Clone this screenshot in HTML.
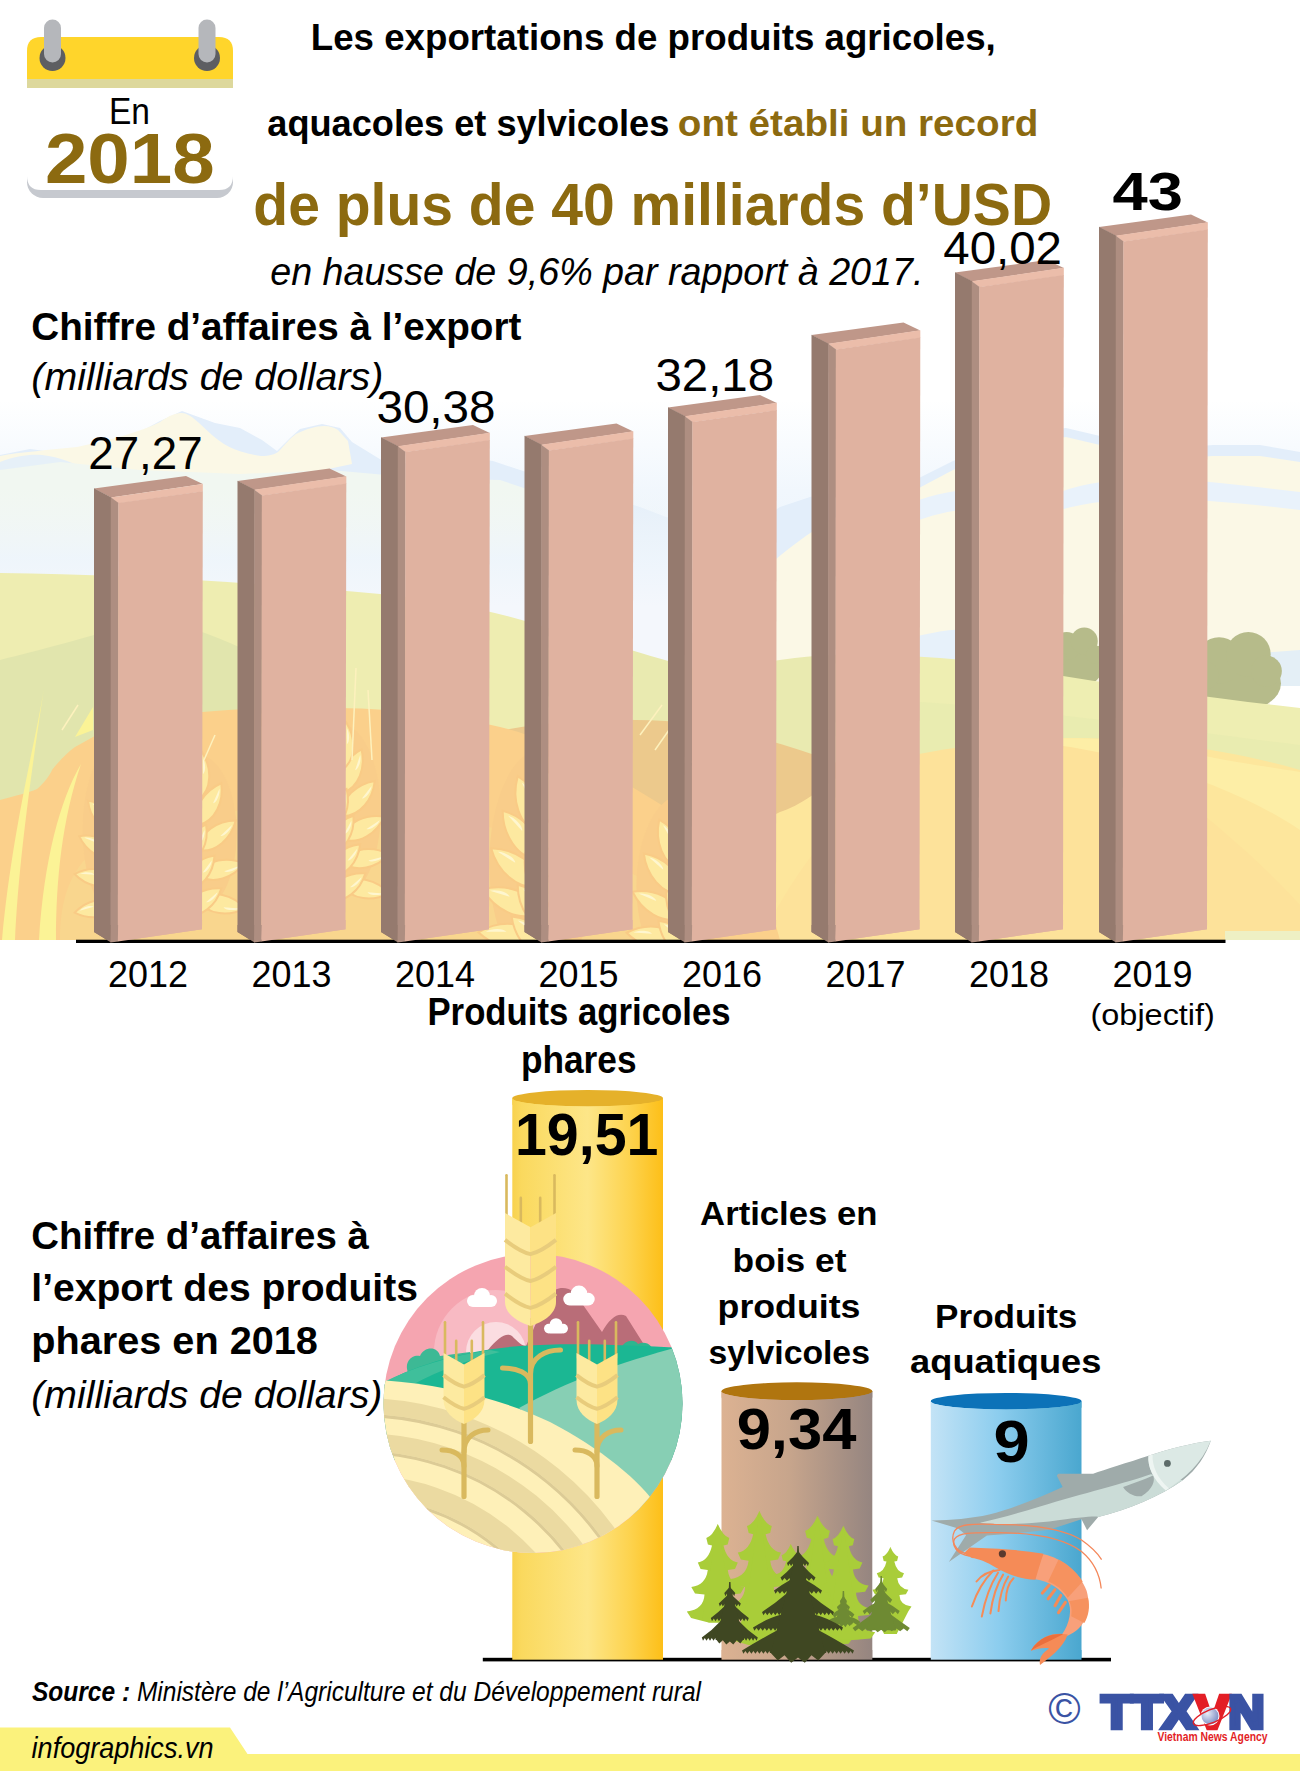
<!DOCTYPE html>
<html lang="fr"><head><meta charset="utf-8"><title>Exportations agricoles 2018</title>
<style>
html,body{margin:0;padding:0;background:#fff}
body{width:1300px;height:1771px;overflow:hidden}
svg{display:block}
svg text{font-family:"Liberation Sans",sans-serif}
</style></head><body>
<svg width="1300" height="1771" viewBox="0 0 1300 1771">
<defs>
<linearGradient id="sky" x1="0" y1="0" x2="0" y2="1">
<stop offset="0" stop-color="#ffffff"/><stop offset="0.25" stop-color="#f1f7fd"/><stop offset="0.55" stop-color="#eaf3fc"/><stop offset="1" stop-color="#f6f8fc"/>
</linearGradient>
<linearGradient id="haze" x1="0" y1="0" x2="0" y2="1">
<stop offset="0" stop-color="#f3f7f6" stop-opacity="0"/><stop offset="0.6" stop-color="#eef5fc" stop-opacity="0.9"/><stop offset="1" stop-color="#f4f7fc" stop-opacity="1"/>
</linearGradient>
<linearGradient id="hazeR" x1="0" y1="0" x2="0" y2="1">
<stop offset="0" stop-color="#fbf8e6" stop-opacity="0"/><stop offset="1" stop-color="#f9f9ec" stop-opacity="1"/>
</linearGradient>
<clipPath id="bgclip"><rect x="0" y="395" width="1300" height="545"/></clipPath>
</defs>
<g clip-path="url(#bgclip)">
<rect x="0" y="400" width="1300" height="360" fill="url(#sky)"/>
<path d="M0,455 L30,449 L60,453 L95,443 L127,439 L160,421 L182,411 L215,423 L240,428 L262,440 L277,451 L290,438 L300,429 L322,424 L340,428 L352,442 L383,461 L433,466 L470,458 L493,461 L523,471 L580,489 L640,507 L666,517 L720,530 L760,520 L780,507 L810,497 L850,490 L919,478 L953,461 L1000,443 L1040,431 L1066,428 L1100,436 L1150,450 L1213,445 L1260,445 L1300,452 V720 H0 Z" fill="#e3eefa"/>
<path d="M0,456 C20,452 50,450 77,447 C110,440 140,432 160,422 C170,415 176,413 182,413 C190,413 200,424 212,435 C222,444 235,452 261,456 C270,456 275,454 278,452 C285,445 290,438 296,434 C306,429 316,426 324,426 C330,426 335,428 338,430 C342,434 345,438 348,441 L352,464 L300,475 L200,480 L100,476 L0,486 Z" fill="#fbf8e6"/>
<path d="M0,462 C15,456 30,454 42,455 C60,457 75,464 90,470 L90,480 L0,482 Z" fill="#e6f0f8"/>
<path d="M0,470 L60,462 L140,470 L240,474 L330,470 L420,478 L500,480 L560,500 L560,600 L0,600 Z" fill="#f1f7f1"/>
<rect x="0" y="486" width="760" height="120" fill="url(#haze)"/>
<rect x="0" y="605" width="760" height="80" fill="#f4f7fc"/>
<path d="M700,640 C760,560 830,515 870,502 L919,488 L953,470 L1000,452 L1040,440 L1066,437 L1100,445 L1150,460 L1213,456 L1260,456 L1300,462 V720 H700 Z" fill="#fbf8e6"/>
<path d="M919,500 C960,485 1010,486 1060,492 C1120,470 1200,480 1300,492 V510 C1200,498 1120,492 1060,510 C1010,505 960,505 919,520 Z" fill="#e9f2fb"/>
<path d="M905,640 C950,625 1000,625 1063,640 L1063,665 L905,665 Z" fill="#e7f1fa"/>
<path d="M1230,655 L1300,650 V690 H1230 Z" fill="#e4eff6"/>
<rect x="1270" y="686" width="30" height="22" fill="#ffffff"/>
<g fill="#b6bb8a"><ellipse cx="1078" cy="664.5" rx="26.0" ry="22.5"/><circle cx="1066.56" cy="646.0" r="14.040000000000001"/><circle cx="1084.24" cy="641.0" r="13.52"/><circle cx="1095.16" cy="654.5" r="9.36"/><circle cx="1058.24" cy="658.0" r="8.32"/></g>
<g fill="#b6bb8a"><ellipse cx="1238" cy="683.5" rx="43.0" ry="27.900000000000002"/><circle cx="1219.08" cy="660.56" r="23.220000000000002"/><circle cx="1248.32" cy="654.36" r="22.36"/><circle cx="1266.38" cy="671.1" r="15.479999999999999"/><circle cx="1205.32" cy="675.44" r="13.76"/></g>
<path d="M1040,660 L1063,650 L1063,690 L1040,690Z" fill="#b6bb8a"/>
<path d="M0,573 C120,574 260,583 380,594 C450,601 500,612 560,632 L700,690 V940 H0 Z" fill="#eeedb1"/>
<path d="M0,660 C40,650 80,640 150,618 C260,640 330,700 400,760 L400,940 H0 Z" fill="#e1e5ad"/>
<path d="M590,640 C640,650 680,668 720,672 C760,662 800,655 860,654 L866,654 L866,780 L590,780 Z" fill="#e9eab0"/>
<path d="M860,655 C930,655 1000,662 1063,676 C1150,690 1230,700 1300,708 V800 H860 Z" fill="#eeeeb2"/>
<path d="M860,700 C960,700 1100,720 1300,745 V800 H860 Z" fill="#e9ecb0"/>
<path d="M780,790 C850,765 960,745 1066,738 C1150,738 1230,750 1300,770 V940 H700 Z" fill="#fde69c"/>
<path d="M919,754 C980,742 1040,738 1100,740 C1180,790 1260,860 1300,905 V940 H760 C800,860 850,800 919,754 Z" fill="#fde29a"/>
<path d="M1020,740 C1060,737 1110,738 1150,742 C1210,760 1260,765 1300,772 V830 C1240,790 1150,755 1020,740Z" fill="#fdeea6"/>
<path d="M455,742 C520,722 600,716 680,722 C740,730 800,748 850,768 C820,790 800,806 780,812 C700,850 640,900 600,940 H455 Z" fill="#ecc98c"/>
<path d="M0,800 C15,796 30,792 37,789 C45,782 50,775 52,770 C60,760 68,752 75,747 L93,737 C130,718 200,708 300,708 C380,706 450,715 500,727 C580,745 700,830 760,870 L780,940 H0 Z" fill="#fbd08b"/>
<path d="M60,940 C60,900 70,870 95,850 C200,800 330,800 420,815 C520,830 600,850 680,900 L720,940 Z" fill="#f9d68e"/>
<path d="M44,688 C36,740 12,830 2,940 L15,940 C18,870 30,780 44,688 Z" fill="#fbf396"/>
<path d="M81,764 C60,800 44,860 39,940 L56,940 C56,880 62,820 81,764 Z" fill="#fbf396"/>
<path d="M75,737 L93,707 L93,730 Z" fill="#fbf396"/>
<g><ellipse cx="120" cy="830.0" rx="37.4" ry="88.0" fill="#f9cd8a"/><path transform="translate(118.0 905.0) rotate(-100)" d="M0,0 C-12.4,-11.0 -10.0,-30.8 0,-44 C10.0,-30.8 12.4,-11.0 0,0 Z" fill="#fde9a0" stroke="#f9cb86" stroke-width="2"/><path transform="translate(118.0 905.0) rotate(-100)" d="M2.4,-24.2 C5.0,-26.4 4.0,-35.2 1.0,-38.7 Z" fill="#fef6cf"/><path transform="translate(118.0 880.9) rotate(-81)" d="M0,0 C-12.4,-11.0 -10.0,-30.8 0,-44 C10.0,-30.8 12.4,-11.0 0,0 Z" fill="#fde9a0" stroke="#f9cb86" stroke-width="2"/><path transform="translate(118.0 880.9) rotate(-81)" d="M2.4,-24.2 C5.0,-26.4 4.0,-35.2 1.0,-38.7 Z" fill="#fef6cf"/><path transform="translate(118.0 856.8) rotate(-62)" d="M0,0 C-12.4,-11.0 -10.0,-30.8 0,-44 C10.0,-30.8 12.4,-11.0 0,0 Z" fill="#fde9a0" stroke="#f9cb86" stroke-width="2"/><path transform="translate(118.0 856.8) rotate(-62)" d="M2.4,-24.2 C5.0,-26.4 4.0,-35.2 1.0,-38.7 Z" fill="#fef6cf"/><path transform="translate(118.0 832.8) rotate(-43)" d="M0,0 C-12.4,-11.0 -10.0,-30.8 0,-44 C10.0,-30.8 12.4,-11.0 0,0 Z" fill="#fde9a0" stroke="#f9cb86" stroke-width="2"/><path transform="translate(118.0 832.8) rotate(-43)" d="M2.4,-24.2 C5.0,-26.4 4.0,-35.2 1.0,-38.7 Z" fill="#fef6cf"/><path transform="translate(118.0 808.7) rotate(-24)" d="M0,0 C-12.4,-11.0 -10.0,-30.8 0,-44 C10.0,-30.8 12.4,-11.0 0,0 Z" fill="#fde9a0" stroke="#f9cb86" stroke-width="2"/><path transform="translate(118.0 808.7) rotate(-24)" d="M2.4,-24.2 C5.0,-26.4 4.0,-35.2 1.0,-38.7 Z" fill="#fef6cf"/><path transform="translate(118.0 784.6) rotate(-5)" d="M0,0 C-12.4,-11.0 -10.0,-30.8 0,-44 C10.0,-30.8 12.4,-11.0 0,0 Z" fill="#fde9a0" stroke="#f9cb86" stroke-width="2"/><path transform="translate(118.0 784.6) rotate(-5)" d="M2.4,-24.2 C5.0,-26.4 4.0,-35.2 1.0,-38.7 Z" fill="#fef6cf"/><path transform="translate(132.0 918.2) rotate(-55)" d="M0,0 C-12.4,-10.4 -10.0,-29.3 0,-41.8 C10.0,-29.3 12.4,-10.4 0,0 Z" fill="#fde9a0" stroke="#f9cb86" stroke-width="2"/><path transform="translate(132.0 918.2) rotate(-55)" d="M2.4,-23.0 C5.0,-25.1 4.0,-33.4 1.0,-36.8 Z" fill="#fef6cf"/><path transform="translate(132.0 894.1) rotate(-45)" d="M0,0 C-12.4,-10.4 -10.0,-29.3 0,-41.8 C10.0,-29.3 12.4,-10.4 0,0 Z" fill="#fde9a0" stroke="#f9cb86" stroke-width="2"/><path transform="translate(132.0 894.1) rotate(-45)" d="M2.4,-23.0 C5.0,-25.1 4.0,-33.4 1.0,-36.8 Z" fill="#fef6cf"/><path transform="translate(132.0 870.0) rotate(-34)" d="M0,0 C-12.4,-10.4 -10.0,-29.3 0,-41.8 C10.0,-29.3 12.4,-10.4 0,0 Z" fill="#fde9a0" stroke="#f9cb86" stroke-width="2"/><path transform="translate(132.0 870.0) rotate(-34)" d="M2.4,-23.0 C5.0,-25.1 4.0,-33.4 1.0,-36.8 Z" fill="#fef6cf"/><path transform="translate(132.0 846.0) rotate(-24)" d="M0,0 C-12.4,-10.4 -10.0,-29.3 0,-41.8 C10.0,-29.3 12.4,-10.4 0,0 Z" fill="#fde9a0" stroke="#f9cb86" stroke-width="2"/><path transform="translate(132.0 846.0) rotate(-24)" d="M2.4,-23.0 C5.0,-25.1 4.0,-33.4 1.0,-36.8 Z" fill="#fef6cf"/><path transform="translate(132.0 821.9) rotate(-13)" d="M0,0 C-12.4,-10.4 -10.0,-29.3 0,-41.8 C10.0,-29.3 12.4,-10.4 0,0 Z" fill="#fde9a0" stroke="#f9cb86" stroke-width="2"/><path transform="translate(132.0 821.9) rotate(-13)" d="M2.4,-23.0 C5.0,-25.1 4.0,-33.4 1.0,-36.8 Z" fill="#fef6cf"/><path transform="translate(132.0 797.8) rotate(-3)" d="M0,0 C-12.4,-10.4 -10.0,-29.3 0,-41.8 C10.0,-29.3 12.4,-10.4 0,0 Z" fill="#fde9a0" stroke="#f9cb86" stroke-width="2"/><path transform="translate(132.0 797.8) rotate(-3)" d="M2.4,-23.0 C5.0,-25.1 4.0,-33.4 1.0,-36.8 Z" fill="#fef6cf"/></g>
<g><ellipse cx="196" cy="833.5" rx="40.8" ry="79.5" fill="#f9cd8a"/><path transform="translate(198.0 900.0) rotate(100)" d="M0,0 C-13.6,-12.0 -11.0,-33.6 0,-48 C11.0,-33.6 13.6,-12.0 0,0 Z" fill="#fde9a0" stroke="#f9cb86" stroke-width="2"/><path transform="translate(198.0 900.0) rotate(100)" d="M2.6,-26.4 C5.5,-28.8 4.4,-38.4 1.1,-42.2 Z" fill="#fef6cf"/><path transform="translate(198.0 875.1) rotate(76)" d="M0,0 C-13.6,-12.0 -11.0,-33.6 0,-48 C11.0,-33.6 13.6,-12.0 0,0 Z" fill="#fde9a0" stroke="#f9cb86" stroke-width="2"/><path transform="translate(198.0 875.1) rotate(76)" d="M2.6,-26.4 C5.5,-28.8 4.4,-38.4 1.1,-42.2 Z" fill="#fef6cf"/><path transform="translate(198.0 850.1) rotate(52)" d="M0,0 C-13.6,-12.0 -11.0,-33.6 0,-48 C11.0,-33.6 13.6,-12.0 0,0 Z" fill="#fde9a0" stroke="#f9cb86" stroke-width="2"/><path transform="translate(198.0 850.1) rotate(52)" d="M2.6,-26.4 C5.5,-28.8 4.4,-38.4 1.1,-42.2 Z" fill="#fef6cf"/><path transform="translate(198.0 825.2) rotate(29)" d="M0,0 C-13.6,-12.0 -11.0,-33.6 0,-48 C11.0,-33.6 13.6,-12.0 0,0 Z" fill="#fde9a0" stroke="#f9cb86" stroke-width="2"/><path transform="translate(198.0 825.2) rotate(29)" d="M2.6,-26.4 C5.5,-28.8 4.4,-38.4 1.1,-42.2 Z" fill="#fef6cf"/><path transform="translate(198.0 800.2) rotate(5)" d="M0,0 C-13.6,-12.0 -11.0,-33.6 0,-48 C11.0,-33.6 13.6,-12.0 0,0 Z" fill="#fde9a0" stroke="#f9cb86" stroke-width="2"/><path transform="translate(198.0 800.2) rotate(5)" d="M2.6,-26.4 C5.5,-28.8 4.4,-38.4 1.1,-42.2 Z" fill="#fef6cf"/><path transform="translate(184.0 914.4) rotate(55)" d="M0,0 C-13.6,-11.4 -11.0,-31.9 0,-45.599999999999994 C11.0,-31.9 13.6,-11.4 0,0 Z" fill="#fde9a0" stroke="#f9cb86" stroke-width="2"/><path transform="translate(184.0 914.4) rotate(55)" d="M2.6,-25.1 C5.5,-27.4 4.4,-36.5 1.1,-40.1 Z" fill="#fef6cf"/><path transform="translate(184.0 889.5) rotate(42)" d="M0,0 C-13.6,-11.4 -11.0,-31.9 0,-45.599999999999994 C11.0,-31.9 13.6,-11.4 0,0 Z" fill="#fde9a0" stroke="#f9cb86" stroke-width="2"/><path transform="translate(184.0 889.5) rotate(42)" d="M2.6,-25.1 C5.5,-27.4 4.4,-36.5 1.1,-40.1 Z" fill="#fef6cf"/><path transform="translate(184.0 864.5) rotate(29)" d="M0,0 C-13.6,-11.4 -11.0,-31.9 0,-45.599999999999994 C11.0,-31.9 13.6,-11.4 0,0 Z" fill="#fde9a0" stroke="#f9cb86" stroke-width="2"/><path transform="translate(184.0 864.5) rotate(29)" d="M2.6,-25.1 C5.5,-27.4 4.4,-36.5 1.1,-40.1 Z" fill="#fef6cf"/><path transform="translate(184.0 839.6) rotate(16)" d="M0,0 C-13.6,-11.4 -11.0,-31.9 0,-45.599999999999994 C11.0,-31.9 13.6,-11.4 0,0 Z" fill="#fde9a0" stroke="#f9cb86" stroke-width="2"/><path transform="translate(184.0 839.6) rotate(16)" d="M2.6,-25.1 C5.5,-27.4 4.4,-36.5 1.1,-40.1 Z" fill="#fef6cf"/><path transform="translate(184.0 814.6) rotate(3)" d="M0,0 C-13.6,-11.4 -11.0,-31.9 0,-45.599999999999994 C11.0,-31.9 13.6,-11.4 0,0 Z" fill="#fde9a0" stroke="#f9cb86" stroke-width="2"/><path transform="translate(184.0 814.6) rotate(3)" d="M2.6,-25.1 C5.5,-27.4 4.4,-36.5 1.1,-40.1 Z" fill="#fef6cf"/></g>
<g><ellipse cx="340" cy="811.0" rx="40.8" ry="87.0" fill="#f9cd8a"/><path transform="translate(342.0 885.0) rotate(100)" d="M0,0 C-13.6,-12.0 -11.0,-33.6 0,-48 C11.0,-33.6 13.6,-12.0 0,0 Z" fill="#fde9a0" stroke="#f9cb86" stroke-width="2"/><path transform="translate(342.0 885.0) rotate(100)" d="M2.6,-26.4 C5.5,-28.8 4.4,-38.4 1.1,-42.2 Z" fill="#fef6cf"/><path transform="translate(342.0 862.0) rotate(81)" d="M0,0 C-13.6,-12.0 -11.0,-33.6 0,-48 C11.0,-33.6 13.6,-12.0 0,0 Z" fill="#fde9a0" stroke="#f9cb86" stroke-width="2"/><path transform="translate(342.0 862.0) rotate(81)" d="M2.6,-26.4 C5.5,-28.8 4.4,-38.4 1.1,-42.2 Z" fill="#fef6cf"/><path transform="translate(342.0 839.1) rotate(62)" d="M0,0 C-13.6,-12.0 -11.0,-33.6 0,-48 C11.0,-33.6 13.6,-12.0 0,0 Z" fill="#fde9a0" stroke="#f9cb86" stroke-width="2"/><path transform="translate(342.0 839.1) rotate(62)" d="M2.6,-26.4 C5.5,-28.8 4.4,-38.4 1.1,-42.2 Z" fill="#fef6cf"/><path transform="translate(342.0 816.1) rotate(43)" d="M0,0 C-13.6,-12.0 -11.0,-33.6 0,-48 C11.0,-33.6 13.6,-12.0 0,0 Z" fill="#fde9a0" stroke="#f9cb86" stroke-width="2"/><path transform="translate(342.0 816.1) rotate(43)" d="M2.6,-26.4 C5.5,-28.8 4.4,-38.4 1.1,-42.2 Z" fill="#fef6cf"/><path transform="translate(342.0 793.2) rotate(24)" d="M0,0 C-13.6,-12.0 -11.0,-33.6 0,-48 C11.0,-33.6 13.6,-12.0 0,0 Z" fill="#fde9a0" stroke="#f9cb86" stroke-width="2"/><path transform="translate(342.0 793.2) rotate(24)" d="M2.6,-26.4 C5.5,-28.8 4.4,-38.4 1.1,-42.2 Z" fill="#fef6cf"/><path transform="translate(342.0 770.2) rotate(5)" d="M0,0 C-13.6,-12.0 -11.0,-33.6 0,-48 C11.0,-33.6 13.6,-12.0 0,0 Z" fill="#fde9a0" stroke="#f9cb86" stroke-width="2"/><path transform="translate(342.0 770.2) rotate(5)" d="M2.6,-26.4 C5.5,-28.8 4.4,-38.4 1.1,-42.2 Z" fill="#fef6cf"/><path transform="translate(328.0 899.4) rotate(55)" d="M0,0 C-13.6,-11.4 -11.0,-31.9 0,-45.599999999999994 C11.0,-31.9 13.6,-11.4 0,0 Z" fill="#fde9a0" stroke="#f9cb86" stroke-width="2"/><path transform="translate(328.0 899.4) rotate(55)" d="M2.6,-25.1 C5.5,-27.4 4.4,-36.5 1.1,-40.1 Z" fill="#fef6cf"/><path transform="translate(328.0 876.4) rotate(45)" d="M0,0 C-13.6,-11.4 -11.0,-31.9 0,-45.599999999999994 C11.0,-31.9 13.6,-11.4 0,0 Z" fill="#fde9a0" stroke="#f9cb86" stroke-width="2"/><path transform="translate(328.0 876.4) rotate(45)" d="M2.6,-25.1 C5.5,-27.4 4.4,-36.5 1.1,-40.1 Z" fill="#fef6cf"/><path transform="translate(328.0 853.5) rotate(34)" d="M0,0 C-13.6,-11.4 -11.0,-31.9 0,-45.599999999999994 C11.0,-31.9 13.6,-11.4 0,0 Z" fill="#fde9a0" stroke="#f9cb86" stroke-width="2"/><path transform="translate(328.0 853.5) rotate(34)" d="M2.6,-25.1 C5.5,-27.4 4.4,-36.5 1.1,-40.1 Z" fill="#fef6cf"/><path transform="translate(328.0 830.5) rotate(24)" d="M0,0 C-13.6,-11.4 -11.0,-31.9 0,-45.599999999999994 C11.0,-31.9 13.6,-11.4 0,0 Z" fill="#fde9a0" stroke="#f9cb86" stroke-width="2"/><path transform="translate(328.0 830.5) rotate(24)" d="M2.6,-25.1 C5.5,-27.4 4.4,-36.5 1.1,-40.1 Z" fill="#fef6cf"/><path transform="translate(328.0 807.6) rotate(13)" d="M0,0 C-13.6,-11.4 -11.0,-31.9 0,-45.599999999999994 C11.0,-31.9 13.6,-11.4 0,0 Z" fill="#fde9a0" stroke="#f9cb86" stroke-width="2"/><path transform="translate(328.0 807.6) rotate(13)" d="M2.6,-25.1 C5.5,-27.4 4.4,-36.5 1.1,-40.1 Z" fill="#fef6cf"/><path transform="translate(328.0 784.6) rotate(3)" d="M0,0 C-13.6,-11.4 -11.0,-31.9 0,-45.599999999999994 C11.0,-31.9 13.6,-11.4 0,0 Z" fill="#fde9a0" stroke="#f9cb86" stroke-width="2"/><path transform="translate(328.0 784.6) rotate(3)" d="M2.6,-25.1 C5.5,-27.4 4.4,-36.5 1.1,-40.1 Z" fill="#fef6cf"/></g>
<g><ellipse cx="542" cy="863.5" rx="52.7" ry="114.5" fill="#f9cd8a"/><path transform="translate(540.0 965.0) rotate(-100)" d="M0,0 C-17.4,-15.5 -14.0,-43.4 0,-62 C14.0,-43.4 17.4,-15.5 0,0 Z" fill="#fde9a0" stroke="#f9cb86" stroke-width="2"/><path transform="translate(540.0 965.0) rotate(-100)" d="M3.4,-34.1 C7.0,-37.2 5.6,-49.6 1.4,-54.6 Z" fill="#fef6cf"/><path transform="translate(540.0 938.8) rotate(-84)" d="M0,0 C-17.4,-15.5 -14.0,-43.4 0,-62 C14.0,-43.4 17.4,-15.5 0,0 Z" fill="#fde9a0" stroke="#f9cb86" stroke-width="2"/><path transform="translate(540.0 938.8) rotate(-84)" d="M3.4,-34.1 C7.0,-37.2 5.6,-49.6 1.4,-54.6 Z" fill="#fef6cf"/><path transform="translate(540.0 912.6) rotate(-68)" d="M0,0 C-17.4,-15.5 -14.0,-43.4 0,-62 C14.0,-43.4 17.4,-15.5 0,0 Z" fill="#fde9a0" stroke="#f9cb86" stroke-width="2"/><path transform="translate(540.0 912.6) rotate(-68)" d="M3.4,-34.1 C7.0,-37.2 5.6,-49.6 1.4,-54.6 Z" fill="#fef6cf"/><path transform="translate(540.0 886.4) rotate(-52)" d="M0,0 C-17.4,-15.5 -14.0,-43.4 0,-62 C14.0,-43.4 17.4,-15.5 0,0 Z" fill="#fde9a0" stroke="#f9cb86" stroke-width="2"/><path transform="translate(540.0 886.4) rotate(-52)" d="M3.4,-34.1 C7.0,-37.2 5.6,-49.6 1.4,-54.6 Z" fill="#fef6cf"/><path transform="translate(540.0 860.2) rotate(-37)" d="M0,0 C-17.4,-15.5 -14.0,-43.4 0,-62 C14.0,-43.4 17.4,-15.5 0,0 Z" fill="#fde9a0" stroke="#f9cb86" stroke-width="2"/><path transform="translate(540.0 860.2) rotate(-37)" d="M3.4,-34.1 C7.0,-37.2 5.6,-49.6 1.4,-54.6 Z" fill="#fef6cf"/><path transform="translate(540.0 834.0) rotate(-21)" d="M0,0 C-17.4,-15.5 -14.0,-43.4 0,-62 C14.0,-43.4 17.4,-15.5 0,0 Z" fill="#fde9a0" stroke="#f9cb86" stroke-width="2"/><path transform="translate(540.0 834.0) rotate(-21)" d="M3.4,-34.1 C7.0,-37.2 5.6,-49.6 1.4,-54.6 Z" fill="#fef6cf"/><path transform="translate(540.0 807.8) rotate(-5)" d="M0,0 C-17.4,-15.5 -14.0,-43.4 0,-62 C14.0,-43.4 17.4,-15.5 0,0 Z" fill="#fde9a0" stroke="#f9cb86" stroke-width="2"/><path transform="translate(540.0 807.8) rotate(-5)" d="M3.4,-34.1 C7.0,-37.2 5.6,-49.6 1.4,-54.6 Z" fill="#fef6cf"/><path transform="translate(554.0 983.6) rotate(-55)" d="M0,0 C-17.4,-14.7 -14.0,-41.2 0,-58.9 C14.0,-41.2 17.4,-14.7 0,0 Z" fill="#fde9a0" stroke="#f9cb86" stroke-width="2"/><path transform="translate(554.0 983.6) rotate(-55)" d="M3.4,-32.4 C7.0,-35.3 5.6,-47.1 1.4,-51.8 Z" fill="#fef6cf"/><path transform="translate(554.0 957.4) rotate(-46)" d="M0,0 C-17.4,-14.7 -14.0,-41.2 0,-58.9 C14.0,-41.2 17.4,-14.7 0,0 Z" fill="#fde9a0" stroke="#f9cb86" stroke-width="2"/><path transform="translate(554.0 957.4) rotate(-46)" d="M3.4,-32.4 C7.0,-35.3 5.6,-47.1 1.4,-51.8 Z" fill="#fef6cf"/><path transform="translate(554.0 931.2) rotate(-38)" d="M0,0 C-17.4,-14.7 -14.0,-41.2 0,-58.9 C14.0,-41.2 17.4,-14.7 0,0 Z" fill="#fde9a0" stroke="#f9cb86" stroke-width="2"/><path transform="translate(554.0 931.2) rotate(-38)" d="M3.4,-32.4 C7.0,-35.3 5.6,-47.1 1.4,-51.8 Z" fill="#fef6cf"/><path transform="translate(554.0 905.0) rotate(-29)" d="M0,0 C-17.4,-14.7 -14.0,-41.2 0,-58.9 C14.0,-41.2 17.4,-14.7 0,0 Z" fill="#fde9a0" stroke="#f9cb86" stroke-width="2"/><path transform="translate(554.0 905.0) rotate(-29)" d="M3.4,-32.4 C7.0,-35.3 5.6,-47.1 1.4,-51.8 Z" fill="#fef6cf"/><path transform="translate(554.0 878.8) rotate(-20)" d="M0,0 C-17.4,-14.7 -14.0,-41.2 0,-58.9 C14.0,-41.2 17.4,-14.7 0,0 Z" fill="#fde9a0" stroke="#f9cb86" stroke-width="2"/><path transform="translate(554.0 878.8) rotate(-20)" d="M3.4,-32.4 C7.0,-35.3 5.6,-47.1 1.4,-51.8 Z" fill="#fef6cf"/><path transform="translate(554.0 852.6) rotate(-11)" d="M0,0 C-17.4,-14.7 -14.0,-41.2 0,-58.9 C14.0,-41.2 17.4,-14.7 0,0 Z" fill="#fde9a0" stroke="#f9cb86" stroke-width="2"/><path transform="translate(554.0 852.6) rotate(-11)" d="M3.4,-32.4 C7.0,-35.3 5.6,-47.1 1.4,-51.8 Z" fill="#fef6cf"/><path transform="translate(554.0 826.4) rotate(-3)" d="M0,0 C-17.4,-14.7 -14.0,-41.2 0,-58.9 C14.0,-41.2 17.4,-14.7 0,0 Z" fill="#fde9a0" stroke="#f9cb86" stroke-width="2"/><path transform="translate(554.0 826.4) rotate(-3)" d="M3.4,-32.4 C7.0,-35.3 5.6,-47.1 1.4,-51.8 Z" fill="#fef6cf"/></g>
<g><ellipse cx="684" cy="886.0" rx="47.6" ry="92.0" fill="#f9cd8a"/><path transform="translate(682.0 965.0) rotate(-100)" d="M0,0 C-15.5,-14.0 -12.5,-39.2 0,-56 C12.5,-39.2 15.5,-14.0 0,0 Z" fill="#fde9a0" stroke="#f9cb86" stroke-width="2"/><path transform="translate(682.0 965.0) rotate(-100)" d="M3.0,-30.8 C6.2,-33.6 5.0,-44.8 1.2,-49.3 Z" fill="#fef6cf"/><path transform="translate(682.0 941.5) rotate(-81)" d="M0,0 C-15.5,-14.0 -12.5,-39.2 0,-56 C12.5,-39.2 15.5,-14.0 0,0 Z" fill="#fde9a0" stroke="#f9cb86" stroke-width="2"/><path transform="translate(682.0 941.5) rotate(-81)" d="M3.0,-30.8 C6.2,-33.6 5.0,-44.8 1.2,-49.3 Z" fill="#fef6cf"/><path transform="translate(682.0 918.0) rotate(-62)" d="M0,0 C-15.5,-14.0 -12.5,-39.2 0,-56 C12.5,-39.2 15.5,-14.0 0,0 Z" fill="#fde9a0" stroke="#f9cb86" stroke-width="2"/><path transform="translate(682.0 918.0) rotate(-62)" d="M3.0,-30.8 C6.2,-33.6 5.0,-44.8 1.2,-49.3 Z" fill="#fef6cf"/><path transform="translate(682.0 894.4) rotate(-43)" d="M0,0 C-15.5,-14.0 -12.5,-39.2 0,-56 C12.5,-39.2 15.5,-14.0 0,0 Z" fill="#fde9a0" stroke="#f9cb86" stroke-width="2"/><path transform="translate(682.0 894.4) rotate(-43)" d="M3.0,-30.8 C6.2,-33.6 5.0,-44.8 1.2,-49.3 Z" fill="#fef6cf"/><path transform="translate(682.0 870.9) rotate(-24)" d="M0,0 C-15.5,-14.0 -12.5,-39.2 0,-56 C12.5,-39.2 15.5,-14.0 0,0 Z" fill="#fde9a0" stroke="#f9cb86" stroke-width="2"/><path transform="translate(682.0 870.9) rotate(-24)" d="M3.0,-30.8 C6.2,-33.6 5.0,-44.8 1.2,-49.3 Z" fill="#fef6cf"/><path transform="translate(682.0 847.4) rotate(-5)" d="M0,0 C-15.5,-14.0 -12.5,-39.2 0,-56 C12.5,-39.2 15.5,-14.0 0,0 Z" fill="#fde9a0" stroke="#f9cb86" stroke-width="2"/><path transform="translate(682.0 847.4) rotate(-5)" d="M3.0,-30.8 C6.2,-33.6 5.0,-44.8 1.2,-49.3 Z" fill="#fef6cf"/><path transform="translate(696.0 981.8) rotate(-55)" d="M0,0 C-15.5,-13.3 -12.5,-37.2 0,-53.199999999999996 C12.5,-37.2 15.5,-13.3 0,0 Z" fill="#fde9a0" stroke="#f9cb86" stroke-width="2"/><path transform="translate(696.0 981.8) rotate(-55)" d="M3.0,-29.3 C6.2,-31.9 5.0,-42.6 1.2,-46.8 Z" fill="#fef6cf"/><path transform="translate(696.0 958.3) rotate(-45)" d="M0,0 C-15.5,-13.3 -12.5,-37.2 0,-53.199999999999996 C12.5,-37.2 15.5,-13.3 0,0 Z" fill="#fde9a0" stroke="#f9cb86" stroke-width="2"/><path transform="translate(696.0 958.3) rotate(-45)" d="M3.0,-29.3 C6.2,-31.9 5.0,-42.6 1.2,-46.8 Z" fill="#fef6cf"/><path transform="translate(696.0 934.8) rotate(-34)" d="M0,0 C-15.5,-13.3 -12.5,-37.2 0,-53.199999999999996 C12.5,-37.2 15.5,-13.3 0,0 Z" fill="#fde9a0" stroke="#f9cb86" stroke-width="2"/><path transform="translate(696.0 934.8) rotate(-34)" d="M3.0,-29.3 C6.2,-31.9 5.0,-42.6 1.2,-46.8 Z" fill="#fef6cf"/><path transform="translate(696.0 911.2) rotate(-24)" d="M0,0 C-15.5,-13.3 -12.5,-37.2 0,-53.199999999999996 C12.5,-37.2 15.5,-13.3 0,0 Z" fill="#fde9a0" stroke="#f9cb86" stroke-width="2"/><path transform="translate(696.0 911.2) rotate(-24)" d="M3.0,-29.3 C6.2,-31.9 5.0,-42.6 1.2,-46.8 Z" fill="#fef6cf"/><path transform="translate(696.0 887.7) rotate(-13)" d="M0,0 C-15.5,-13.3 -12.5,-37.2 0,-53.199999999999996 C12.5,-37.2 15.5,-13.3 0,0 Z" fill="#fde9a0" stroke="#f9cb86" stroke-width="2"/><path transform="translate(696.0 887.7) rotate(-13)" d="M3.0,-29.3 C6.2,-31.9 5.0,-42.6 1.2,-46.8 Z" fill="#fef6cf"/><path transform="translate(696.0 864.2) rotate(-3)" d="M0,0 C-15.5,-13.3 -12.5,-37.2 0,-53.199999999999996 C12.5,-37.2 15.5,-13.3 0,0 Z" fill="#fde9a0" stroke="#f9cb86" stroke-width="2"/><path transform="translate(696.0 864.2) rotate(-3)" d="M3.0,-29.3 C6.2,-31.9 5.0,-42.6 1.2,-46.8 Z" fill="#fef6cf"/></g>
<path d="M352,760 L356,668" stroke="#fdf1bd" stroke-width="1.5" fill="none"/>
<path d="M372,760 L368,690" stroke="#fdf1bd" stroke-width="1.5" fill="none"/>
<path d="M204,760 L215,735" stroke="#fdf1bd" stroke-width="1.5" fill="none"/>
<path d="M62,730 L78,705" stroke="#fdf1bd" stroke-width="1.5" fill="none"/>
<path d="M640,735 L662,705" stroke="#fdf1bd" stroke-width="1.5" fill="none"/>
<path d="M655,750 L690,700" stroke="#fdf1bd" stroke-width="1.5" fill="none"/>
<rect x="1225" y="931" width="75" height="9" fill="#eef0c4"/>
</g>
<g>
<rect x="27" y="60" width="206" height="138" rx="16" fill="#c6c9cf"/>
<path d="M27,88 H233 V176 Q233,190 219,190 H41 Q27,190 27,176 Z" fill="#ffffff"/>
<path d="M27,80 V51 Q27,37 41,37 H219 Q233,37 233,51 V80 Z" fill="#ffd52b"/>
<rect x="27" y="79" width="206" height="9" fill="#ddd89c"/>
<circle cx="52.5" cy="58" r="13" fill="#5d5e62"/>
<rect x="44.0" y="19.5" width="17" height="43" rx="8.5" fill="#b5b7bb"/>
<circle cx="207" cy="58" r="13" fill="#5d5e62"/>
<rect x="198.5" y="19.5" width="17" height="43" rx="8.5" fill="#b5b7bb"/>
</g>
<text x="129.5" y="123.5" font-size="37" font-weight="normal" font-style="normal" fill="#000" text-anchor="middle" textLength="41.0" lengthAdjust="spacingAndGlyphs" >En</text>
<text x="129.8" y="183" font-size="70" font-weight="bold" font-style="normal" fill="#8c6a10" text-anchor="middle" textLength="169.7" lengthAdjust="spacingAndGlyphs" >2018</text>
<text x="310.8" y="49.5" font-size="37" font-weight="bold" font-style="normal" fill="#000" text-anchor="start" textLength="685.0" lengthAdjust="spacingAndGlyphs" >Les exportations de produits agricoles,</text>
<text x="267.3" y="136" font-size="37" font-weight="bold" font-style="normal" fill="#000" text-anchor="start" textLength="402.0" lengthAdjust="spacingAndGlyphs" >aquacoles et sylvicoles</text>
<text x="677.8" y="136" font-size="37" font-weight="bold" font-style="normal" fill="#8c6a10" text-anchor="start" textLength="360.5" lengthAdjust="spacingAndGlyphs" >ont établi un record</text>
<text x="253.3" y="224.5" font-size="59" font-weight="bold" font-style="normal" fill="#8c6a10" text-anchor="start" textLength="798.8" lengthAdjust="spacingAndGlyphs" >de plus de 40 milliards d’USD</text>
<text x="270.2" y="285" font-size="39" font-weight="normal" font-style="italic" fill="#000" text-anchor="start" textLength="653.2" lengthAdjust="spacingAndGlyphs" >en hausse de 9,6% par rapport à 2017.</text>
<text x="31.3" y="340" font-size="38" font-weight="bold" font-style="normal" fill="#000" text-anchor="start" textLength="490.1" lengthAdjust="spacingAndGlyphs" >Chiffre d’affaires à l’export</text>
<text x="31.3" y="390" font-size="38" font-weight="normal" font-style="italic" fill="#000" text-anchor="start" textLength="352.1" lengthAdjust="spacingAndGlyphs" >(milliards de dollars)</text>
<g>
<polygon points="94,488.6 186,476.1 202.8,484.1 111,497.6" fill="#bf9789"/><polygon points="110.5,497.40000000000003 202.8,483.90000000000003 202.8,491.6 118.3,503.40000000000003" fill="#ebbdaa"/><polygon points="94,488.3 111.3,497.40000000000003 111,942.5 94,932" fill="#957a6e"/><polygon points="110.8,497.3 118.6,503.0 118.1,941.5 110.5,942.5" fill="#ae8e81"/><polygon points="118.3,503.1 202.8,491.20000000000005 202,929.2 117.8,941.5" fill="#e0b2a0"/>
<polygon points="237.5,481 329.5,468.5 346.3,476.5 254.5,490" fill="#bf9789"/><polygon points="254.0,489.8 346.3,476.3 346.3,484 261.8,495.8" fill="#ebbdaa"/><polygon points="237.5,480.7 254.8,489.8 254.5,942.5 237.5,932" fill="#957a6e"/><polygon points="254.3,489.7 262.1,495.4 261.6,941.5 254.0,942.5" fill="#ae8e81"/><polygon points="261.8,495.5 346.3,483.6 345.5,929.2 261.3,941.5" fill="#e0b2a0"/>
<polygon points="381,437.5 473,425.0 489.8,433.0 398,446.5" fill="#bf9789"/><polygon points="397.5,446.3 489.8,432.8 489.8,440.5 405.3,452.3" fill="#ebbdaa"/><polygon points="381,437.2 398.3,446.3 398,942.5 381,932" fill="#957a6e"/><polygon points="397.8,446.2 405.6,451.9 405.1,941.5 397.5,942.5" fill="#ae8e81"/><polygon points="405.3,452.0 489.8,440.1 489,929.2 404.8,941.5" fill="#e0b2a0"/>
<polygon points="524.5,436 616.5,423.5 633.3,431.5 541.5,445" fill="#bf9789"/><polygon points="541.0,444.8 633.3,431.3 633.3,439 548.8,450.8" fill="#ebbdaa"/><polygon points="524.5,435.7 541.8,444.8 541.5,942.5 524.5,932" fill="#957a6e"/><polygon points="541.3,444.7 549.1,450.4 548.6,941.5 541.0,942.5" fill="#ae8e81"/><polygon points="548.8,450.5 633.3,438.6 632.5,929.2 548.3,941.5" fill="#e0b2a0"/>
<polygon points="668,407.5 760,395.0 776.8,403.0 685,416.5" fill="#bf9789"/><polygon points="684.5,416.3 776.8,402.8 776.8,410.5 692.3,422.3" fill="#ebbdaa"/><polygon points="668,407.2 685.3,416.3 685,942.5 668,932" fill="#957a6e"/><polygon points="684.8,416.2 692.6,421.9 692.1,941.5 684.5,942.5" fill="#ae8e81"/><polygon points="692.3,422.0 776.8,410.1 776,929.2 691.8,941.5" fill="#e0b2a0"/>
<polygon points="811.5,335 903.5,322.5 920.3,330.5 828.5,344" fill="#bf9789"/><polygon points="828.0,343.8 920.3,330.3 920.3,338 835.8,349.8" fill="#ebbdaa"/><polygon points="811.5,334.7 828.8,343.8 828.5,942.5 811.5,932" fill="#957a6e"/><polygon points="828.3,343.7 836.1,349.4 835.6,941.5 828.0,942.5" fill="#ae8e81"/><polygon points="835.8,349.5 920.3,337.6 919.5,929.2 835.3,941.5" fill="#e0b2a0"/>
<polygon points="955,272.5 1047,260.0 1063.8,268.0 972,281.5" fill="#bf9789"/><polygon points="971.5,281.3 1063.8,267.8 1063.8,275.5 979.3,287.3" fill="#ebbdaa"/><polygon points="955,272.2 972.3,281.3 972,942.5 955,932" fill="#957a6e"/><polygon points="971.8,281.2 979.6,286.9 979.1,941.5 971.5,942.5" fill="#ae8e81"/><polygon points="979.3,287.0 1063.8,275.1 1063,929.2 978.8,941.5" fill="#e0b2a0"/>
<polygon points="1099,227 1191,214.5 1207.8,222.5 1116,236" fill="#bf9789"/><polygon points="1115.5,235.8 1207.8,222.3 1207.8,230 1123.3,241.8" fill="#ebbdaa"/><polygon points="1099,226.7 1116.3,235.8 1116,942.5 1099,932" fill="#957a6e"/><polygon points="1115.8,235.7 1123.6,241.4 1123.1,941.5 1115.5,942.5" fill="#ae8e81"/><polygon points="1123.3,241.5 1207.8,229.6 1207,929.2 1122.8,941.5" fill="#e0b2a0"/>
</g>
<rect x="76" y="939.7" width="1149.5" height="3.3" fill="#000"/>
<polygon points="94,925 111.3,925 111,942.5 94,932" fill="#957a6e"/><polygon points="110.8,925 118.6,925 118.1,941.5 110.5,942.5" fill="#ae8e81"/><polygon points="118.3,920 202.1,920 202,929.2 117.8,941.5" fill="#e0b2a0"/>
<polygon points="237.5,925 254.8,925 254.5,942.5 237.5,932" fill="#957a6e"/><polygon points="254.3,925 262.1,925 261.6,941.5 254.0,942.5" fill="#ae8e81"/><polygon points="261.8,920 345.6,920 345.5,929.2 261.3,941.5" fill="#e0b2a0"/>
<polygon points="381,925 398.3,925 398,942.5 381,932" fill="#957a6e"/><polygon points="397.8,925 405.6,925 405.1,941.5 397.5,942.5" fill="#ae8e81"/><polygon points="405.3,920 489.1,920 489,929.2 404.8,941.5" fill="#e0b2a0"/>
<polygon points="524.5,925 541.8,925 541.5,942.5 524.5,932" fill="#957a6e"/><polygon points="541.3,925 549.1,925 548.6,941.5 541.0,942.5" fill="#ae8e81"/><polygon points="548.8,920 632.6,920 632.5,929.2 548.3,941.5" fill="#e0b2a0"/>
<polygon points="668,925 685.3,925 685,942.5 668,932" fill="#957a6e"/><polygon points="684.8,925 692.6,925 692.1,941.5 684.5,942.5" fill="#ae8e81"/><polygon points="692.3,920 776.1,920 776,929.2 691.8,941.5" fill="#e0b2a0"/>
<polygon points="811.5,925 828.8,925 828.5,942.5 811.5,932" fill="#957a6e"/><polygon points="828.3,925 836.1,925 835.6,941.5 828.0,942.5" fill="#ae8e81"/><polygon points="835.8,920 919.6,920 919.5,929.2 835.3,941.5" fill="#e0b2a0"/>
<polygon points="955,925 972.3,925 972,942.5 955,932" fill="#957a6e"/><polygon points="971.8,925 979.6,925 979.1,941.5 971.5,942.5" fill="#ae8e81"/><polygon points="979.3,920 1063.1,920 1063,929.2 978.8,941.5" fill="#e0b2a0"/>
<polygon points="1099,925 1116.3,925 1116,942.5 1099,932" fill="#957a6e"/><polygon points="1115.8,925 1123.6,925 1123.1,941.5 1115.5,942.5" fill="#ae8e81"/><polygon points="1123.3,920 1207.1,920 1207,929.2 1122.8,941.5" fill="#e0b2a0"/>
<text x="88.3" y="468.5" font-size="46" font-weight="normal" font-style="normal" fill="#000" text-anchor="start" textLength="114.3" lengthAdjust="spacingAndGlyphs" >27,27</text>
<text x="376.4" y="422.5" font-size="46" font-weight="normal" font-style="normal" fill="#000" text-anchor="start" textLength="119.2" lengthAdjust="spacingAndGlyphs" >30,38</text>
<text x="655.4" y="391" font-size="46" font-weight="normal" font-style="normal" fill="#000" text-anchor="start" textLength="118.7" lengthAdjust="spacingAndGlyphs" >32,18</text>
<text x="943.3" y="263.6" font-size="46" font-weight="normal" font-style="normal" fill="#000" text-anchor="start" textLength="118.7" lengthAdjust="spacingAndGlyphs" >40,02</text>
<text x="1112.6" y="210" font-size="54" font-weight="bold" font-style="normal" fill="#000" text-anchor="start" textLength="70.4" lengthAdjust="spacingAndGlyphs" >43</text>
<text x="148.0" y="986.5" font-size="36" font-weight="normal" font-style="normal" fill="#000" text-anchor="middle" textLength="79.9" lengthAdjust="spacingAndGlyphs" >2012</text>
<text x="291.5" y="986.5" font-size="36" font-weight="normal" font-style="normal" fill="#000" text-anchor="middle" textLength="79.9" lengthAdjust="spacingAndGlyphs" >2013</text>
<text x="435.0" y="986.5" font-size="36" font-weight="normal" font-style="normal" fill="#000" text-anchor="middle" textLength="79.9" lengthAdjust="spacingAndGlyphs" >2014</text>
<text x="578.5" y="986.5" font-size="36" font-weight="normal" font-style="normal" fill="#000" text-anchor="middle" textLength="79.9" lengthAdjust="spacingAndGlyphs" >2015</text>
<text x="722.0" y="986.5" font-size="36" font-weight="normal" font-style="normal" fill="#000" text-anchor="middle" textLength="79.9" lengthAdjust="spacingAndGlyphs" >2016</text>
<text x="865.5" y="986.5" font-size="36" font-weight="normal" font-style="normal" fill="#000" text-anchor="middle" textLength="79.9" lengthAdjust="spacingAndGlyphs" >2017</text>
<text x="1009.0" y="986.5" font-size="36" font-weight="normal" font-style="normal" fill="#000" text-anchor="middle" textLength="79.9" lengthAdjust="spacingAndGlyphs" >2018</text>
<text x="1152.5" y="986.5" font-size="36" font-weight="normal" font-style="normal" fill="#000" text-anchor="middle" textLength="79.9" lengthAdjust="spacingAndGlyphs" >2019</text>
<text x="1152.7" y="1025" font-size="30" font-weight="normal" font-style="normal" fill="#000" text-anchor="middle" textLength="124.4" lengthAdjust="spacingAndGlyphs" >(objectif)</text>
<defs>
<linearGradient id="gY" x1="0" y1="0" x2="1" y2="0">
<stop offset="0" stop-color="#f8d24e"/><stop offset="0.06" stop-color="#fad95e"/><stop offset="0.5" stop-color="#fde688"/><stop offset="0.78" stop-color="#fdd34e"/><stop offset="1" stop-color="#fdbf18"/>
</linearGradient>
<linearGradient id="gB" x1="0" y1="0" x2="1" y2="0">
<stop offset="0" stop-color="#dcb292"/><stop offset="0.45" stop-color="#c7a58c"/><stop offset="1" stop-color="#958580"/>
</linearGradient>
<linearGradient id="gA" x1="0" y1="0" x2="1" y2="0">
<stop offset="0" stop-color="#c3e3f6"/><stop offset="0.45" stop-color="#8ccdee"/><stop offset="1" stop-color="#4aa7cf"/>
</linearGradient>
<clipPath id="circ"><circle cx="533" cy="1403.5" r="149.5"/></clipPath>
</defs>
<text x="579" y="1025" font-size="38" font-weight="bold" font-style="normal" fill="#000" text-anchor="middle" textLength="303.1" lengthAdjust="spacingAndGlyphs" >Produits agricoles</text>
<text x="578.7" y="1072.5" font-size="38" font-weight="bold" font-style="normal" fill="#000" text-anchor="middle" textLength="115.6" lengthAdjust="spacingAndGlyphs" >phares</text>
<path d="M512.3,1098.2 V1660 H663 V1098.2 Z" fill="url(#gY)"/>
<ellipse cx="587.65" cy="1098.2" rx="75.35000000000002" ry="8.2" fill="#e5b12a"/>
<path d="M512.3,1098.2 A75.35000000000002,8.2 0 0 0 663,1098.2 V1104.2 A75.35000000000002,8.2 0 0 1 512.3,1104.2 Z" fill="url(#gY)"/>
<path d="M721.5,1391.2 V1660 H872.3 V1391.2 Z" fill="url(#gB)"/>
<ellipse cx="796.9" cy="1391.2" rx="75.39999999999998" ry="8.9" fill="#b0750f"/>
<path d="M721.5,1391.2 A75.39999999999998,8.9 0 0 0 872.3,1391.2 V1397.2 A75.39999999999998,8.9 0 0 1 721.5,1397.2 Z" fill="url(#gB)"/>
<path d="M930.8,1401.2 V1660 H1081.5 V1401.2 Z" fill="url(#gA)"/>
<ellipse cx="1006.15" cy="1401.2" rx="75.35000000000002" ry="8.2" fill="#0c72b8"/>
<path d="M930.8,1401.2 A75.35000000000002,8.2 0 0 0 1081.5,1401.2 V1407.2 A75.35000000000002,8.2 0 0 1 930.8,1407.2 Z" fill="url(#gA)"/>
<rect x="482.8" y="1657.8" width="628.2" height="3.6" fill="#000"/>
<rect x="512.3" y="1650" width="150.7" height="9.7" fill="url(#gY)"/>
<rect x="721.5" y="1650" width="150.8" height="9.7" fill="url(#gB)"/>
<rect x="930.8" y="1650" width="150.7" height="9.7" fill="url(#gA)"/>
<text x="586.7" y="1155" font-size="60" font-weight="bold" font-style="normal" fill="#000" text-anchor="middle" textLength="143.4" lengthAdjust="spacingAndGlyphs" >19,51</text>
<text x="796.5" y="1449" font-size="58" font-weight="bold" font-style="normal" fill="#000" text-anchor="middle" textLength="119.7" lengthAdjust="spacingAndGlyphs" >9,34</text>
<text x="1011.7" y="1462" font-size="58.5" font-weight="bold" font-style="normal" fill="#000" text-anchor="middle" textLength="36.2" lengthAdjust="spacingAndGlyphs" >9</text>
<text x="788.75" y="1225" font-size="34" font-weight="bold" font-style="normal" fill="#000" text-anchor="middle" textLength="177.3" lengthAdjust="spacingAndGlyphs" >Articles en</text>
<text x="789.5" y="1271.5" font-size="34" font-weight="bold" font-style="normal" fill="#000" text-anchor="middle" textLength="113.8" lengthAdjust="spacingAndGlyphs" >bois et</text>
<text x="789.0" y="1317.5" font-size="34" font-weight="bold" font-style="normal" fill="#000" text-anchor="middle" textLength="142.8" lengthAdjust="spacingAndGlyphs" >produits</text>
<text x="789.25" y="1364" font-size="34" font-weight="bold" font-style="normal" fill="#000" text-anchor="middle" textLength="161.3" lengthAdjust="spacingAndGlyphs" >sylvicoles</text>
<text x="1006.25" y="1327.5" font-size="34" font-weight="bold" font-style="normal" fill="#000" text-anchor="middle" textLength="142.3" lengthAdjust="spacingAndGlyphs" >Produits</text>
<text x="1005.75" y="1372.5" font-size="34" font-weight="bold" font-style="normal" fill="#000" text-anchor="middle" textLength="191.3" lengthAdjust="spacingAndGlyphs" >aquatiques</text>
<text x="31.3" y="1249" font-size="38" font-weight="bold" font-style="normal" fill="#000" text-anchor="start" textLength="337.6" lengthAdjust="spacingAndGlyphs" >Chiffre d’affaires à</text>
<text x="31.3" y="1301" font-size="38" font-weight="bold" font-style="normal" fill="#000" text-anchor="start" textLength="386.6" lengthAdjust="spacingAndGlyphs" >l’export des produits</text>
<text x="31.3" y="1354" font-size="38" font-weight="bold" font-style="normal" fill="#000" text-anchor="start" textLength="286.6" lengthAdjust="spacingAndGlyphs" >phares en 2018</text>
<text x="31.3" y="1407.5" font-size="38" font-weight="normal" font-style="italic" fill="#000" text-anchor="start" textLength="351.1" lengthAdjust="spacingAndGlyphs" >(milliards de dollars)</text>
<g clip-path="url(#circ)">
<rect x="380" y="1250" width="310" height="310" fill="#f5a5b0"/>
<circle cx="496" cy="1352" r="62" fill="#f8bac3"/>
<circle cx="496" cy="1352" r="30" fill="#fbdde1"/>
<path d="M488,1350 C498,1338 506,1332 512,1336 C518,1342 522,1346 526,1346 L548,1296 C556,1286 566,1286 574,1292 L602,1332 C610,1318 618,1312 626,1316 L660,1370 L480,1380 Z" fill="#b96d78"/>
<g fill="#fff"><circle cx="473.0" cy="1301.0" r="6.0"/><circle cx="482" cy="1296.0" r="8.0"/><circle cx="491.0" cy="1301.0" r="6.0"/><rect x="472.0" y="1300.0" width="20.0" height="7.0" rx="3.0"/></g>
<g fill="#fff"><circle cx="569.55" cy="1299.1" r="6.300000000000001"/><circle cx="579" cy="1293.85" r="8.4"/><circle cx="588.45" cy="1299.1" r="6.300000000000001"/><rect x="568.5" y="1298.05" width="21.0" height="7.3500000000000005" rx="3.1500000000000004"/></g>
<g fill="#fff"><circle cx="548.8" cy="1328.6" r="4.800000000000001"/><circle cx="556" cy="1324.6" r="6.4"/><circle cx="563.2" cy="1328.6" r="4.800000000000001"/><rect x="548.0" y="1327.8" width="16.0" height="5.6000000000000005" rx="2.4000000000000004"/></g>
<path d="M408,1372 C404,1362 412,1354 420,1356 C424,1346 438,1346 440,1356 L470,1352 L470,1385 L395,1385 Z" fill="#3db995"/>
<path d="M620,1352 C622,1340 634,1338 638,1344 C646,1340 654,1346 652,1352 L672,1350 L672,1372 L610,1372 Z" fill="#2db58f"/>
<path d="M380,1385 C420,1362 470,1350 520,1346 C580,1342 630,1346 690,1348 V1460 H380 Z" fill="#1bb793"/>
<path d="M380,1384 C410,1368 450,1356 490,1350 L500,1352 C460,1362 430,1374 400,1392 Z" fill="#3fbf9b"/>
<path d="M519,1408 C570,1380 620,1362 690,1344 V1520 H640 Z" fill="#87cfb4"/>
<path d="M380,1380 C440,1384 500,1398 550,1422 C600,1448 640,1480 660,1510 L640,1560 H380 Z" fill="#fef0b8"/>
<path d="M360,1406 A306,306 0 0 1 659.9,1650.8" fill="none" stroke="#ebdaa1" stroke-width="16"/>
<path d="M360,1415.5 A296.5,296.5 0 0 1 650.6,1652.7" fill="none" stroke="#dccb96" stroke-width="3"/>
<path d="M360,1442 A270,270 0 0 1 624.6,1658.0" fill="none" stroke="#ebdaa1" stroke-width="18"/>
<path d="M360,1452.5 A259.5,259.5 0 0 1 614.3,1660.1" fill="none" stroke="#dccb96" stroke-width="3"/>
<path d="M360,1486 A226,226 0 0 1 581.5,1666.8" fill="none" stroke="#ebdaa1" stroke-width="22"/>
<path d="M360,1498.5 A213.5,213.5 0 0 1 569.2,1669.3" fill="none" stroke="#dccb96" stroke-width="3"/>
<path d="M360,1538 A174,174 0 0 1 530.5,1677.2" fill="none" stroke="#ebdaa1" stroke-width="26"/>
<path d="M360,1552.5 A159.5,159.5 0 0 1 516.3,1680.1" fill="none" stroke="#dccb96" stroke-width="3"/>
</g>
<g><rect x="527.9" y="1318" width="5.2" height="126" rx="2.6" fill="#d9b95e"/><path d="M530.5,1384 C530.5,1372.8 516.5,1368 502.5,1368" fill="none" stroke="#d9b95e" stroke-width="5" stroke-linecap="round"/><path d="M530.5,1374 C530.5,1357.2 545.5,1350 560.5,1350" fill="none" stroke="#d9b95e" stroke-width="5" stroke-linecap="round"/><rect x="505.2" y="1174.0" width="2.6" height="45.0" rx="1.3" fill="#d9b95e"/><rect x="553.2" y="1174.0" width="2.6" height="45.0" rx="1.3" fill="#d9b95e"/><rect x="519.5" y="1196.6" width="2.6" height="30.4" rx="1.3" fill="#d9b95e"/><rect x="538.9" y="1196.6" width="2.6" height="30.4" rx="1.3" fill="#d9b95e"/><path d="M505.0,1213 L530.5,1227.28 V1326 C517.75,1322 505.0,1314 505.0,1302 Z" fill="#fdeaa0"/><path d="M556.0,1213 L530.5,1227.28 V1326 C543.25,1322 556.0,1314 556.0,1302 Z" fill="#fde285"/><path d="M505.0,1239.9 Q520.3,1252.0 530.5,1254.1 Q540.7,1252.0 556.0,1239.9" fill="none" stroke="#e8cc7c" stroke-width="4"/><path d="M505.0,1266.7 Q520.3,1278.9 530.5,1281.0 Q540.7,1278.9 556.0,1266.7" fill="none" stroke="#e8cc7c" stroke-width="4"/><path d="M505.0,1293.6 Q520.3,1305.7 530.5,1307.9 Q540.7,1305.7 556.0,1293.6" fill="none" stroke="#e8cc7c" stroke-width="4"/></g>
<g><rect x="461.4" y="1416" width="5.2" height="83" rx="2.6" fill="#d9b95e"/><path d="M464,1466 C464,1454.8 453.0,1450 442,1450" fill="none" stroke="#d9b95e" stroke-width="5" stroke-linecap="round"/><path d="M464,1452 C464,1436.6 476.0,1430 488,1430" fill="none" stroke="#d9b95e" stroke-width="5" stroke-linecap="round"/><rect x="443.7" y="1321.0" width="2.6" height="38.0" rx="1.3" fill="#d9b95e"/><rect x="481.7" y="1321.0" width="2.6" height="38.0" rx="1.3" fill="#d9b95e"/><rect x="454.9" y="1339.6" width="2.6" height="27.4" rx="1.3" fill="#d9b95e"/><rect x="470.5" y="1339.6" width="2.6" height="27.4" rx="1.3" fill="#d9b95e"/><path d="M443.5,1353 L464,1364.48 V1424 C453.75,1420 443.5,1412 443.5,1400 Z" fill="#fdeaa0"/><path d="M484.5,1353 L464,1364.48 V1424 C474.25,1420 484.5,1412 484.5,1400 Z" fill="#fde285"/><path d="M443.5,1375.1 Q455.8,1384.9 464,1386.6 Q472.2,1384.9 484.5,1375.1" fill="none" stroke="#e8cc7c" stroke-width="4"/><path d="M443.5,1397.2 Q455.8,1407.0 464,1408.7 Q472.2,1407.0 484.5,1397.2" fill="none" stroke="#e8cc7c" stroke-width="4"/></g>
<g><rect x="594.4" y="1416" width="5.2" height="83" rx="2.6" fill="#d9b95e"/><path d="M597,1466 C597,1454.8 586.0,1450 575,1450" fill="none" stroke="#d9b95e" stroke-width="5" stroke-linecap="round"/><path d="M597,1452 C597,1436.6 609.0,1430 621,1430" fill="none" stroke="#d9b95e" stroke-width="5" stroke-linecap="round"/><rect x="576.7" y="1321.0" width="2.6" height="38.0" rx="1.3" fill="#d9b95e"/><rect x="614.7" y="1321.0" width="2.6" height="38.0" rx="1.3" fill="#d9b95e"/><rect x="587.9" y="1339.6" width="2.6" height="27.4" rx="1.3" fill="#d9b95e"/><rect x="603.5" y="1339.6" width="2.6" height="27.4" rx="1.3" fill="#d9b95e"/><path d="M576.5,1353 L597,1364.48 V1424 C586.75,1420 576.5,1412 576.5,1400 Z" fill="#fdeaa0"/><path d="M617.5,1353 L597,1364.48 V1424 C607.25,1420 617.5,1412 617.5,1400 Z" fill="#fde285"/><path d="M576.5,1375.1 Q588.8,1384.9 597,1386.6 Q605.2,1384.9 617.5,1375.1" fill="none" stroke="#e8cc7c" stroke-width="4"/><path d="M576.5,1397.2 Q588.8,1407.0 597,1408.7 Q605.2,1407.0 617.5,1397.2" fill="none" stroke="#e8cc7c" stroke-width="4"/></g>
<g>
<path d="M717.8,1524 Q723.0,1536.0 729.3,1538.0 L727.7,1544.5 L723.5,1545.5 Q726.8,1560.5 737.8,1562.5 L735.0,1569.0 L727.8,1570.0 Q729.7,1585.0 744.3,1587.0 L740.6,1593.5 L731.0,1594.5 Q731.8,1609.5 748.8,1611.5 L744.5,1618.0 L727.1,1622.5 L708.5,1622.5 Z" fill="#a9cd39"/><path d="M717.8,1524 Q712.6,1536.0 706.3,1538.0 L707.9,1544.5 L712.0,1545.5 Q708.8,1560.5 697.8,1562.5 L700.6,1569.0 L707.8,1570.0 Q705.9,1585.0 691.3,1587.0 L695.0,1593.5 L704.5,1594.5 Q703.8,1609.5 686.8,1611.5 L691.1,1618.0 L708.5,1622.5 L727.1,1622.5 Z" fill="#a9cd39"/><path d="M717.8,1524 L733.3,1619.0 L702.3,1619.0 Z" fill="#a9cd39"/>
<path d="M759.4,1511 Q765.0,1524.0 771.8,1526.1 L770.1,1533.1 L765.6,1534.2 Q769.1,1550.4 781.0,1552.6 L778.0,1559.6 L770.2,1560.7 Q772.3,1576.9 788.0,1579.0 L784.0,1586.1 L773.7,1587.1 Q774.5,1603.3 792.9,1605.5 L788.2,1612.5 L776.1,1613.6 Q775.7,1629.8 795.6,1632.0 L790.5,1639.0 L770.3,1645.0 L748.5,1645.0 Z" fill="#a9cd39"/><path d="M759.4,1511 Q753.8,1524.0 747.0,1526.1 L748.7,1533.1 L753.2,1534.2 Q749.7,1550.4 737.8,1552.6 L740.8,1559.6 L748.6,1560.7 Q746.5,1576.9 730.8,1579.0 L734.8,1586.1 L745.1,1587.1 Q744.3,1603.3 725.9,1605.5 L730.6,1612.5 L742.7,1613.6 Q743.1,1629.8 723.2,1632.0 L728.3,1639.0 L748.5,1645.0 L770.3,1645.0 Z" fill="#a9cd39"/><path d="M759.4,1511 L777.5,1640.1 L741.3,1640.1 Z" fill="#a9cd39"/>
<path d="M790.8,1544 Q794.9,1553.6 800.0,1555.2 L798.7,1560.4 L795.4,1561.2 Q798.0,1573.2 806.8,1574.8 L804.6,1580.0 L798.8,1580.8 Q800.3,1592.8 812.0,1594.4 L809.0,1599.6 L801.4,1600.4 Q802.0,1612.4 815.6,1614.0 L812.1,1619.2 L798.2,1622.8 L783.4,1622.8 Z" fill="#a9cd39"/><path d="M790.8,1544 Q786.7,1553.6 781.6,1555.2 L782.9,1560.4 L786.2,1561.2 Q783.6,1573.2 774.8,1574.8 L777.0,1580.0 L782.8,1580.8 Q781.3,1592.8 769.6,1594.4 L772.6,1599.6 L780.2,1600.4 Q779.6,1612.4 766.0,1614.0 L769.5,1619.2 L783.4,1622.8 L798.2,1622.8 Z" fill="#a9cd39"/><path d="M790.8,1544 L803.2,1620.0 L778.4,1620.0 Z" fill="#a9cd39"/>
<path d="M817.5,1515.7 Q823.1,1528.7 829.9,1530.8 L828.2,1537.8 L823.7,1538.9 Q827.2,1555.1 839.1,1557.3 L836.1,1564.3 L828.3,1565.4 Q830.4,1581.6 846.1,1583.7 L842.1,1590.8 L831.8,1591.8 Q832.6,1608.0 851.0,1610.2 L846.3,1617.2 L834.2,1618.3 Q833.8,1634.5 853.7,1636.7 L848.6,1643.7 L828.4,1645.0 L806.6,1645.0 Z" fill="#a9cd39"/><path d="M817.5,1515.7 Q811.9,1528.7 805.1,1530.8 L806.8,1537.8 L811.3,1538.9 Q807.8,1555.1 795.9,1557.3 L798.9,1564.3 L806.7,1565.4 Q804.6,1581.6 788.9,1583.7 L792.9,1590.8 L803.2,1591.8 Q802.4,1608.0 784.0,1610.2 L788.7,1617.2 L800.8,1618.3 Q801.2,1634.5 781.3,1636.7 L786.4,1643.7 L806.6,1645.0 L828.4,1645.0 Z" fill="#a9cd39"/><path d="M817.5,1515.7 L835.6,1644.8 L799.4,1644.8 Z" fill="#a9cd39"/>
<path d="M843.4,1525.8 Q848.3,1537.2 854.3,1539.1 L852.8,1545.3 L848.9,1546.2 Q851.9,1560.5 862.4,1562.4 L859.7,1568.5 L852.9,1569.5 Q854.7,1583.7 868.6,1585.6 L865.1,1591.8 L856.0,1592.8 Q856.7,1607.0 872.9,1608.9 L868.7,1615.1 L858.1,1616.0 Q857.7,1630.3 875.2,1632.2 L870.8,1638.4 L852.9,1640.0 L833.9,1640.0 Z" fill="#a9cd39"/><path d="M843.4,1525.8 Q838.5,1537.2 832.5,1539.1 L834.0,1545.3 L837.9,1546.2 Q834.9,1560.5 824.4,1562.4 L827.1,1568.5 L833.9,1569.5 Q832.1,1583.7 818.2,1585.6 L821.7,1591.8 L830.8,1592.8 Q830.1,1607.0 813.9,1608.9 L818.1,1615.1 L828.7,1616.0 Q829.1,1630.3 811.6,1632.2 L816.0,1638.4 L833.9,1640.0 L852.9,1640.0 Z" fill="#a9cd39"/><path d="M843.4,1525.8 L859.3,1639.3 L827.5,1639.3 Z" fill="#a9cd39"/>
<path d="M890.4,1547 Q893.9,1555.2 898.2,1556.5 L897.1,1560.9 L894.3,1561.6 Q896.5,1571.8 904.0,1573.2 L902.1,1577.6 L897.2,1578.3 Q898.5,1588.5 908.4,1589.8 L905.9,1594.3 L899.4,1594.9 Q899.9,1605.1 911.5,1606.5 L908.5,1610.9 L896.7,1634.0 L884.1,1634.0 Z" fill="#a9cd39"/><path d="M890.4,1547 Q886.9,1555.2 882.6,1556.5 L883.7,1560.9 L886.5,1561.6 Q884.3,1571.8 876.8,1573.2 L878.7,1577.6 L883.6,1578.3 Q882.3,1588.5 872.4,1589.8 L874.9,1594.3 L881.4,1594.9 Q880.9,1605.1 869.3,1606.5 L872.3,1610.9 L884.1,1634.0 L896.7,1634.0 Z" fill="#a9cd39"/><path d="M890.4,1547 L900.9,1611.6 L879.9,1611.6 Z" fill="#a9cd39"/>
<path d="M843.4,1596 Q845.0,1598.0 846.9,1601.0 L846.2,1604.2 L845.3,1601.5 L845.0,1603.5 Q847.2,1603.6 849.9,1607.0 L848.6,1610.2 L846.9,1607.5 L846.3,1609.5 Q850.0,1610.2 854.4,1614.5 L852.3,1617.7 L849.3,1615.0 L848.4,1617.0 Q853.8,1616.6 860.4,1622.0 L857.4,1625.2 L853.2,1622.5 L851.9,1624.5 L843.4,1624.0 Z" fill="#6e8a33"/><path d="M843.4,1596 Q841.8,1598.0 839.9,1601.0 L840.6,1604.2 L841.5,1601.5 L841.8,1603.5 Q839.6,1603.6 836.9,1607.0 L838.2,1610.2 L839.9,1607.5 L840.5,1609.5 Q836.8,1610.2 832.4,1614.5 L834.5,1617.7 L837.5,1615.0 L838.4,1617.0 Q833.0,1616.6 826.4,1622.0 L829.4,1625.2 L833.6,1622.5 L834.9,1624.5 L843.4,1624.0 Z" fill="#6e8a33"/><path d="M842.4,1597 L842.6999999999999,1591 L844.1,1591 L844.4,1597 L851.9,1624.0 L851.9,1622.8 L849.8,1626.3 L847.6,1623.8 L845.5,1627.3 L843.4,1624.8 L841.3,1627.3 L839.1,1623.8 L837.0,1626.3 L834.9,1622.8 L834.9,1624.0 Z" fill="#6e8a33"/>
<path d="M881.2,1581 Q883.9,1585.3 887.2,1589.0 L886.0,1592.2 L884.4,1589.5 L883.9,1591.5 Q887.6,1595.4 892.2,1599.7 L890.1,1602.9 L887.1,1600.2 L886.2,1602.2 Q892.2,1605.2 899.7,1611.0 L897.9,1614.2 L895.4,1611.5 L892.8,1614.2 L890.3,1611.5 L889.5,1613.5 Q898.6,1620.3 909.8,1628.0 L907.3,1631.2 L903.7,1628.5 L900.1,1631.2 L896.6,1628.5 L895.5,1630.5 L881.2,1630.0 Z" fill="#6e8a33"/><path d="M881.2,1581 Q878.5,1585.3 875.2,1589.0 L876.4,1592.2 L878.0,1589.5 L878.5,1591.5 Q874.8,1595.4 870.2,1599.7 L872.3,1602.9 L875.3,1600.2 L876.2,1602.2 Q870.2,1605.2 862.7,1611.0 L864.5,1614.2 L867.0,1611.5 L869.6,1614.2 L872.1,1611.5 L872.9,1613.5 Q863.8,1620.3 852.6,1628.0 L855.1,1631.2 L858.7,1628.5 L862.3,1631.2 L865.8,1628.5 L866.9,1630.5 L881.2,1630.0 Z" fill="#6e8a33"/><path d="M880.2,1582 L880.5,1576 L881.9000000000001,1576 L882.2,1582 L895.5,1630.0 L895.5,1627.8 L891.9,1631.3 L888.4,1628.8 L884.8,1632.3 L881.2,1629.8 L877.6,1632.3 L874.0,1628.8 L870.5,1631.3 L866.9,1627.8 L866.9,1630.0 Z" fill="#6e8a33"/>
<path d="M729.8,1587 Q732.3,1589.5 735.3,1593.0 L734.2,1596.2 L732.7,1593.5 L732.3,1595.5 Q736.1,1599.0 740.8,1603.4 L739.7,1606.6 L738.2,1603.9 L736.7,1606.6 L735.2,1603.9 L734.8,1605.9 Q741.1,1612.1 748.8,1618.0 L747.6,1621.2 L745.8,1618.5 L744.1,1621.2 L742.4,1618.5 L740.6,1621.2 L738.9,1618.5 L738.3,1620.5 Q747.1,1630.1 757.8,1637.5 L756.6,1640.7 L754.8,1638.0 L753.1,1640.7 L751.3,1638.0 L749.6,1640.7 L747.8,1638.0 L746.1,1640.7 L744.3,1638.0 L743.8,1640.0 L729.8,1639.5 Z" fill="#3f4722"/><path d="M729.8,1587 Q727.3,1589.5 724.3,1593.0 L725.4,1596.2 L726.9,1593.5 L727.3,1595.5 Q723.5,1599.0 718.8,1603.4 L719.9,1606.6 L721.4,1603.9 L722.9,1606.6 L724.4,1603.9 L724.8,1605.9 Q718.5,1612.1 710.8,1618.0 L712.0,1621.2 L713.8,1618.5 L715.5,1621.2 L717.2,1618.5 L719.0,1621.2 L720.7,1618.5 L721.2,1620.5 Q712.5,1630.1 701.8,1637.5 L703.0,1640.7 L704.8,1638.0 L706.5,1640.7 L708.3,1638.0 L710.0,1640.7 L711.8,1638.0 L713.5,1640.7 L715.3,1638.0 L715.8,1640.0 L729.8,1639.5 Z" fill="#3f4722"/><path d="M728.8,1588 L729.0999999999999,1582 L730.5,1582 L730.8,1588 L743.8,1639.5 L743.8,1639.0 L740.3,1643.4 L736.8,1640.3 L733.3,1644.6 L729.8,1641.5 L726.3,1644.6 L722.8,1640.3 L719.3,1643.4 L715.8,1639.0 L715.8,1639.5 Z" fill="#3f4722"/>
<path d="M798,1551 Q803.0,1557.9 809.0,1563.0 L807.9,1566.2 L806.4,1563.5 L804.9,1566.2 L803.4,1563.5 L803.0,1565.5 Q808.6,1572.0 815.5,1577.5 L813.8,1580.7 L811.4,1578.0 L809.0,1580.7 L806.6,1578.0 L805.9,1580.0 Q813.1,1584.0 822.0,1590.5 L820.5,1593.7 L818.3,1591.0 L816.1,1593.7 L813.9,1591.0 L811.7,1593.7 L809.5,1591.0 L808.8,1593.0 Q820.1,1602.9 834.0,1612.0 L832.6,1615.2 L830.6,1612.5 L828.7,1615.2 L826.7,1612.5 L824.7,1615.2 L822.7,1612.5 L820.7,1615.2 L818.8,1612.5 L816.8,1615.2 L814.8,1612.5 L814.2,1614.5 Q827.2,1617.4 843.0,1627.5 L841.6,1630.7 L839.5,1628.0 L837.4,1630.7 L835.4,1628.0 L833.3,1630.7 L831.2,1628.0 L829.2,1630.7 L827.1,1628.0 L825.1,1630.7 L823.0,1628.0 L820.9,1630.7 L818.9,1628.0 L818.2,1630.0 Q834.3,1638.5 854.0,1650.5 L852.6,1653.7 L850.6,1651.0 L848.6,1653.7 L846.6,1651.0 L844.6,1653.7 L842.6,1651.0 L840.6,1653.7 L838.6,1651.0 L836.6,1653.7 L834.6,1651.0 L832.6,1653.7 L830.6,1651.0 L828.6,1653.7 L826.6,1651.0 L826.0,1653.0 L798,1652.5 Z" fill="#3f4722"/><path d="M798,1551 Q793.0,1557.9 787.0,1563.0 L788.1,1566.2 L789.6,1563.5 L791.1,1566.2 L792.6,1563.5 L793.0,1565.5 Q787.4,1572.0 780.5,1577.5 L782.2,1580.7 L784.6,1578.0 L787.0,1580.7 L789.4,1578.0 L790.1,1580.0 Q782.9,1584.0 774.0,1590.5 L775.5,1593.7 L777.7,1591.0 L779.9,1593.7 L782.1,1591.0 L784.3,1593.7 L786.5,1591.0 L787.2,1593.0 Q775.9,1602.9 762.0,1612.0 L763.4,1615.2 L765.4,1612.5 L767.3,1615.2 L769.3,1612.5 L771.3,1615.2 L773.3,1612.5 L775.3,1615.2 L777.2,1612.5 L779.2,1615.2 L781.2,1612.5 L781.8,1614.5 Q768.8,1617.4 753.0,1627.5 L754.4,1630.7 L756.5,1628.0 L758.6,1630.7 L760.6,1628.0 L762.7,1630.7 L764.8,1628.0 L766.8,1630.7 L768.9,1628.0 L770.9,1630.7 L773.0,1628.0 L775.1,1630.7 L777.1,1628.0 L777.8,1630.0 Q761.7,1638.5 742.0,1650.5 L743.4,1653.7 L745.4,1651.0 L747.4,1653.7 L749.4,1651.0 L751.4,1653.7 L753.4,1651.0 L755.4,1653.7 L757.4,1651.0 L759.4,1653.7 L761.4,1651.0 L763.4,1653.7 L765.4,1651.0 L767.4,1653.7 L769.4,1651.0 L770.0,1653.0 L798,1652.5 Z" fill="#3f4722"/><path d="M797,1552 L797.3,1546 L798.7,1546 L799,1552 L825.0,1652.5 L825.0,1653.2 L818.2,1660.6 L811.5,1655.3 L804.8,1662.8 L798.0,1657.4 L791.2,1662.8 L784.5,1655.3 L777.8,1660.6 L771.0,1653.2 L771.0,1652.5 Z" fill="#3f4722"/>
</g>
<g>
<path d="M 1210.8,1440.8 C 1192.3,1443.1 1169.2,1448.8 1148.5,1455.8 C 1127.7,1462.7 1104.6,1469.6 1093.1,1473.8 L 1058.5,1473.8 C 1057.3,1474.5 1056.6,1475.4 1057.1,1476.3 L 1062.6,1486.9 C 1040.0,1497.3 1012.3,1508.8 989.2,1514.6 C 970.8,1518.8 947.7,1520.6 931.5,1520.4 L 958.1,1528.5 L 966.2,1534.9 L 948.8,1561.9 L 986.9,1535.4 L 1014.6,1533.5 L 1049.2,1529.8 L 1081.5,1519.2 L 1087.1,1530.3 L 1098.2,1516.9 C 1127.7,1510.0 1160.0,1496.2 1183.1,1480.0 C 1196.9,1469.6 1206.2,1454.6 1210.8,1440.8 Z" fill="#9fabaa"/>
<path d="M 1150.8,1474.2 C 1127.7,1482.3 1081.5,1493.8 1040.0,1506.5 C 1016.9,1513.5 996.2,1519.2 980.0,1522.7 C 989.2,1524.3 1016.9,1525.0 1049.2,1521.5 C 1081.5,1516.9 1095.4,1515.8 1098.2,1516.9 C 1127.7,1510.0 1160.0,1496.2 1183.1,1480.0 C 1173.8,1480.5 1160.0,1476.5 1150.8,1474.2 Z" fill="#cbdcd7"/>
<path d="M 1210.8,1440.8 C 1192.3,1443.1 1169.2,1448.8 1148.5,1455.8 C 1147.3,1466.2 1153.1,1480.0 1165.8,1490.4 C 1185.4,1477.7 1201.5,1463.8 1210.8,1440.8 Z" fill="#dce9e5"/>
<path d="M 1148.5,1455.8 C 1147.3,1466.2 1153.1,1480.0 1165.8,1490.4 L 1168.8,1488.3 C 1157.7,1478.8 1151.9,1466.2 1152.6,1454.6 Z" fill="#eef5f2"/>
<path d="M 1123.1,1486.9 C 1132.3,1483.5 1146.2,1478.8 1153.1,1475.4 C 1155.4,1480.0 1153.1,1489.2 1141.5,1496.2 C 1134.6,1497.3 1126.5,1492.7 1123.1,1486.9 Z" fill="#9fabaa"/>
<circle cx="1167.4" cy="1463.4" r="3.4" fill="#5d6b69"/>
<path d="M 967.3,1553.8 C 954.6,1551.5 950.0,1540.0 954.6,1530.8 C 959.2,1523.8 973.1,1523.8 993.8,1524.3 C 1030.8,1524.3 1063.1,1528.5 1081.5,1540.0 C 1093.1,1548.1 1098.8,1555.0 1101.6,1559.6" fill="none" stroke="#f4875a" stroke-width="1.3"/>
<path d="M 969.6,1556.2 C 956.9,1553.8 951.2,1545.8 954.6,1538.8 C 959.2,1531.9 975.4,1532.6 996.2,1532.6 C 1030.8,1532.6 1063.1,1537.7 1081.5,1551.5 C 1095.4,1563.1 1100.0,1576.9 1101.2,1588.5" fill="none" stroke="#f4875a" stroke-width="1.3"/>
<path d="M 993.4,1570.5 Q 979.4,1584.3 971.9,1606.5" fill="none" stroke="#f58b57" stroke-width="2" stroke-linecap="round"/>
<path d="M 998.0,1572.8 Q 986.7,1590.5 981.8,1616.6" fill="none" stroke="#f58b57" stroke-width="2" stroke-linecap="round"/>
<path d="M 1003.1,1574.6 Q 993.5,1589.8 990.4,1613.4" fill="none" stroke="#f58b57" stroke-width="2" stroke-linecap="round"/>
<path d="M 1008.2,1576.5 Q 1000.1,1589.6 998.5,1611.1" fill="none" stroke="#f58b57" stroke-width="2" stroke-linecap="round"/>
<path d="M 1013.5,1578.3 Q 1006.4,1585.2 1005.8,1600.5" fill="none" stroke="#f58b57" stroke-width="2" stroke-linecap="round"/>
<path d="M 999.6,1570.0 Q 984.6,1571.2 976.5,1581.5" fill="none" stroke="#f58b57" stroke-width="2" stroke-linecap="round"/>
<path d="M 1049.2,1585.0 L 1042.3,1593.1" fill="none" stroke="#f58b57" stroke-width="3" stroke-linecap="round"/>
<path d="M 1055.0,1589.6 L 1048.1,1598.8" fill="none" stroke="#f58b57" stroke-width="3" stroke-linecap="round"/>
<path d="M 1060.8,1595.4 L 1055.0,1605.8" fill="none" stroke="#f58b57" stroke-width="3" stroke-linecap="round"/>
<path d="M 1065.4,1602.3 L 1058.5,1612.7" fill="none" stroke="#f58b57" stroke-width="3" stroke-linecap="round"/>
<path d="M 1040.0,1553.4 C 1058.5,1556.2 1079.2,1570.0 1086.6,1590.8 C 1091.9,1609.2 1086.2,1627.7 1067.7,1635.8 L 1061.9,1634.6 C 1070.0,1623.1 1072.3,1609.2 1067.7,1600.0 C 1060.8,1588.5 1049.2,1581.5 1035.4,1579.2 Z" fill="#f8a07a"/>
<path d="M 1058.5,1559.6 C 1067.7,1564.2 1076.9,1572.3 1082.7,1581.5 L 1067.7,1597.7 C 1063.1,1589.6 1056.2,1585.0 1048.1,1581.5 Z" fill="#f6925f"/>
<path d="M 1088.0,1597.7 C 1090.3,1606.9 1088.5,1616.2 1084.3,1623.1 L 1071.2,1616.2 C 1072.3,1609.2 1071.2,1604.6 1068.8,1601.2 Z" fill="#f6925f"/>
<path d="M 969.6,1547.4 C 989.2,1548.1 1016.9,1549.2 1043.5,1553.8 C 1040.0,1563.1 1037.7,1572.3 1035.4,1579.7 C 1021.5,1579.2 1007.7,1574.6 996.2,1567.7 C 986.9,1561.9 977.7,1558.5 971.9,1558.0 C 969.6,1556.2 968.5,1552.7 969.6,1547.4 Z" fill="#f58b57"/>
<path d="M 969.6,1547.4 L 963.8,1553.4 L 971.9,1558.0 Z" fill="#f58b57"/>
<circle cx="1002.4" cy="1553.8" r="3.6" fill="#5a3a2e"/>
<path d="M 1067.7,1634.6 C 1056.2,1632.3 1040.0,1634.6 1030.8,1650.8 C 1037.7,1648.5 1044.6,1647.3 1049.2,1648.5 C 1042.3,1653.1 1038.8,1657.7 1040.0,1665.1 C 1049.2,1657.7 1063.1,1648.5 1067.7,1634.6 Z" fill="#f58b57"/>
<path d="M 1063.1,1634.2 C 1053.8,1633.5 1040.0,1635.8 1030.8,1650.8 C 1037.7,1646.2 1049.2,1641.5 1063.1,1634.2 Z" fill="#ea6f3d"/>
</g>
<text x="32" y="1701" font-size="28" font-style="italic" textLength="669" lengthAdjust="spacingAndGlyphs"><tspan font-weight="bold">Source :</tspan> Ministère de l’Agriculture et du Développement rural</text>
<path d="M0,1727.5 H230 L247.5,1754 H1300 V1771 H0 Z" fill="#fbf27c"/>
<text x="31.6" y="1757.5" font-size="30" font-weight="normal" font-style="italic" fill="#000" text-anchor="start" textLength="181.9" lengthAdjust="spacingAndGlyphs" >infographics.vn</text>
<text x="1064.4" y="1724.3" font-size="44" fill="#3a53a4" text-anchor="middle">©</text>
<text x="1101.5" y="1728" font-size="46.5" font-weight="bold" fill="#3a53a4" stroke="#3a53a4" stroke-width="4.6" stroke-linejoin="miter" textLength="163" lengthAdjust="spacingAndGlyphs">TTX<tspan fill="#e31e26" stroke="#e31e26">V</tspan>N</text>
<defs><radialGradient id="globe" cx="0.35" cy="0.35" r="0.8"><stop offset="0" stop-color="#e8ecf6"/><stop offset="1" stop-color="#6f7fbd"/></radialGradient></defs>
<circle cx="1210" cy="1716" r="9.5" fill="#fff"/><circle cx="1210" cy="1716" r="8.5" fill="url(#globe)"/>
<ellipse cx="1212" cy="1716" rx="20" ry="6.5" transform="rotate(-22 1212 1716)" fill="none" stroke="#e31e26" stroke-width="1.4"/>
<text x="1157.5" y="1740.5" font-size="12" font-weight="bold" font-style="normal" fill="#e31e26" text-anchor="start" textLength="110.0" lengthAdjust="spacingAndGlyphs" >Vietnam News Agency</text>
</svg>
</body></html>
